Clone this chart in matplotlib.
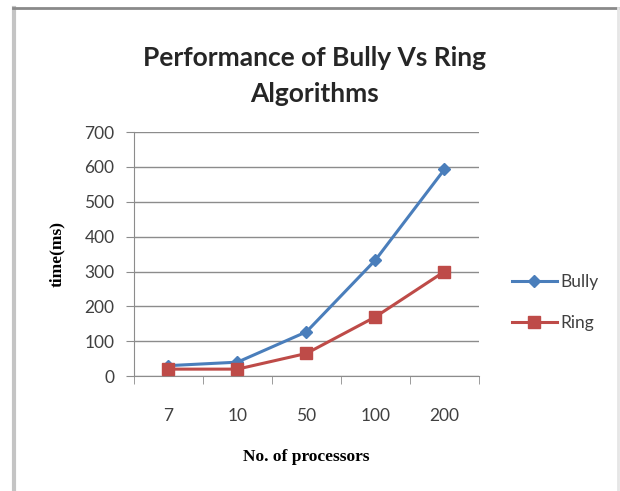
import numpy as np
import matplotlib.pyplot as plt
from matplotlib.lines import Line2D

# processors on the x axis, time in ms for each algorithm
processors = ['7', '10', '50', '100', '200']
bully_ms = [30, 40, 127, 333, 593]
ring_ms = [20, 20, 65, 170, 300]

blue = '#4a7ebb'
red = '#be4b48'

fig = plt.figure(figsize=(6.2, 4.91), dpi=100)
ax = fig.add_axes([0.216, 0.234, 0.5565, 0.497])

x = np.arange(len(processors))
ax.plot(x, bully_ms, color=blue, lw=2.2, marker='D', ms=6,
        mfc=blue, mec=blue, label='Bully', zorder=3)
ax.plot(x, ring_ms, color=red, lw=2.2, marker='s', ms=9,
        mfc=red, mec=red, label='Ring', zorder=4)

ax.set_xlim(-0.5, len(processors) - 0.5)
ax.set_ylim(0, 700)
ax.set_yticks(np.arange(0, 701, 100))
ax.yaxis.grid(True, color='#8c8c8c', lw=1)
ax.set_axisbelow(True)

# labels at the category centres, tick marks on the boundaries
ax.set_xticks(x)
ax.set_xticklabels(processors)
ax.set_xticks(np.arange(-0.5, len(processors)), minor=True)
ax.tick_params(axis='x', which='major', length=0, pad=23,
               labelsize=12.5, labelcolor='#404040')
ax.tick_params(axis='x', which='minor', length=6, color='#8c8c8c')
ax.tick_params(axis='y', length=6, color='#8c8c8c', pad=8,
               labelsize=12.5, labelcolor='#404040')

for side in ['top', 'right']:
    ax.spines[side].set_visible(False)
for side in ['left', 'bottom']:
    ax.spines[side].set_color('#8c8c8c')

for lab in ax.get_xticklabels() + ax.get_yticklabels():
    lab.set_family('Lato')

ax.set_xlabel('No. of processors', family='Liberation Serif',
              fontweight='bold', fontsize=12.5, labelpad=18)
ax.set_ylabel('time(ms)', family='Liberation Serif',
              fontweight='bold', fontsize=12.5, labelpad=14)

fig.text(0.508, 0.846, 'Performance of Bully Vs Ring\nAlgorithms',
         ha='center', va='center', family='Lato', fontsize=19,
         fontweight='bold', linespacing=1.6, color='#262626')

leg = ax.legend(loc='center left', bbox_to_anchor=(1.05, 0.30),
                frameon=False, handlelength=2.6,
                handletextpad=0.2, labelspacing=1.45,
                prop={'family': 'Lato', 'size': 12.5})
for t in leg.get_texts():
    t.set_color('#404040')

# frame around the chart
fig.add_artist(Line2D([14 / 620, 14 / 620], [0, 1 - 8 / 491],
                      transform=fig.transFigure, color='#c4c4c4', lw=3))
fig.add_artist(Line2D([13 / 620, 1], [1 - 8 / 491, 1 - 8 / 491],
                      transform=fig.transFigure, color='#8a8a8a', lw=2))
fig.add_artist(Line2D([618 / 620, 618 / 620], [0, 1 - 8 / 491],
                      transform=fig.transFigure, color='#e6e6e6', lw=2))

fig.savefig('out.png', dpi=100)
